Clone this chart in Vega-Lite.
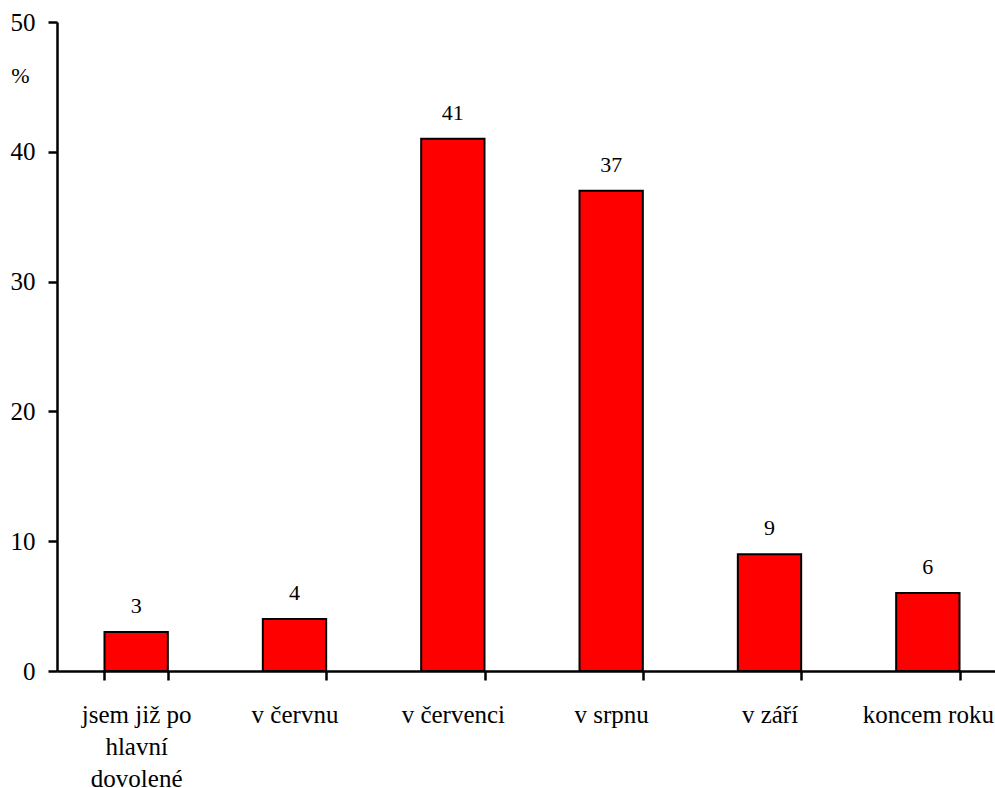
{
  "$schema": "https://vega.github.io/schema/vega-lite/v6.json",
  "autosize": {"type": "none"},
  "padding": {"left": 57, "top": 22, "right": 0, "bottom": 117},
  "width": 950,
  "height": 649,
  "background": "white",
  "data": {
    "values": [
      {"kategorie": "jsem již po hlavní dovolené", "procento": 3},
      {"kategorie": "v červnu", "procento": 4},
      {"kategorie": "v červenci", "procento": 41},
      {"kategorie": "v srpnu", "procento": 37},
      {"kategorie": "v září", "procento": 9},
      {"kategorie": "koncem roku", "procento": 6}
    ]
  },
  "config": {
    "view": {"stroke": null},
    "font": "Liberation Serif, Times New Roman, serif",
    "axis": {
      "labelFont": "Liberation Serif, Times New Roman, serif",
      "titleFont": "Liberation Serif, Times New Roman, serif",
      "labelColor": "black",
      "titleColor": "black",
      "domainColor": "black",
      "tickColor": "black",
      "domainWidth": 2.5,
      "tickWidth": 2.5,
      "grid": false
    }
  },
  "encoding": {
    "x": {
      "field": "kategorie",
      "type": "nominal",
      "sort": null,
      "scale": {"paddingInner": 0.6, "paddingOuter": 0.3},
      "axis": {
        "title": null,
        "labelAngle": 0,
        "labelFontSize": 25,
        "labelBaseline": "top",
        "labelPadding": 22,
        "labelLineHeight": 32,
        "tickSize": 9,
        "tickBand": "extent",
        "labelOverlap": false,
        "labelBound": false,
        "labelLimit": 0,
        "labelExpr": "datum.value == 'jsem již po hlavní dovolené' ? ['jsem již po', 'hlavní', 'dovolené'] : datum.label"
      }
    },
    "y": {
      "field": "procento",
      "type": "quantitative",
      "scale": {"domain": [0, 50], "nice": false},
      "axis": {
        "values": [0, 10, 20, 30, 40, 50],
        "title": "%",
        "titleAngle": 0,
        "titleX": -37,
        "titleY": 60,
        "titleAlign": "center",
        "titleBaseline": "alphabetic",
        "titleFontSize": 22,
        "titleFontWeight": "normal",
        "labelFontSize": 25,
        "labelPadding": 13,
        "tickSize": 9
      }
    }
  },
  "layer": [
    {
      "mark": {"type": "bar", "color": "#FF0000", "stroke": "black", "strokeWidth": 2}
    },
    {
      "mark": {"type": "text", "dy": -19, "baseline": "alphabetic", "fontSize": 22, "font": "Liberation Serif, Times New Roman, serif", "color": "black"},
      "encoding": {"text": {"field": "procento", "type": "quantitative"}}
    }
  ]
}
